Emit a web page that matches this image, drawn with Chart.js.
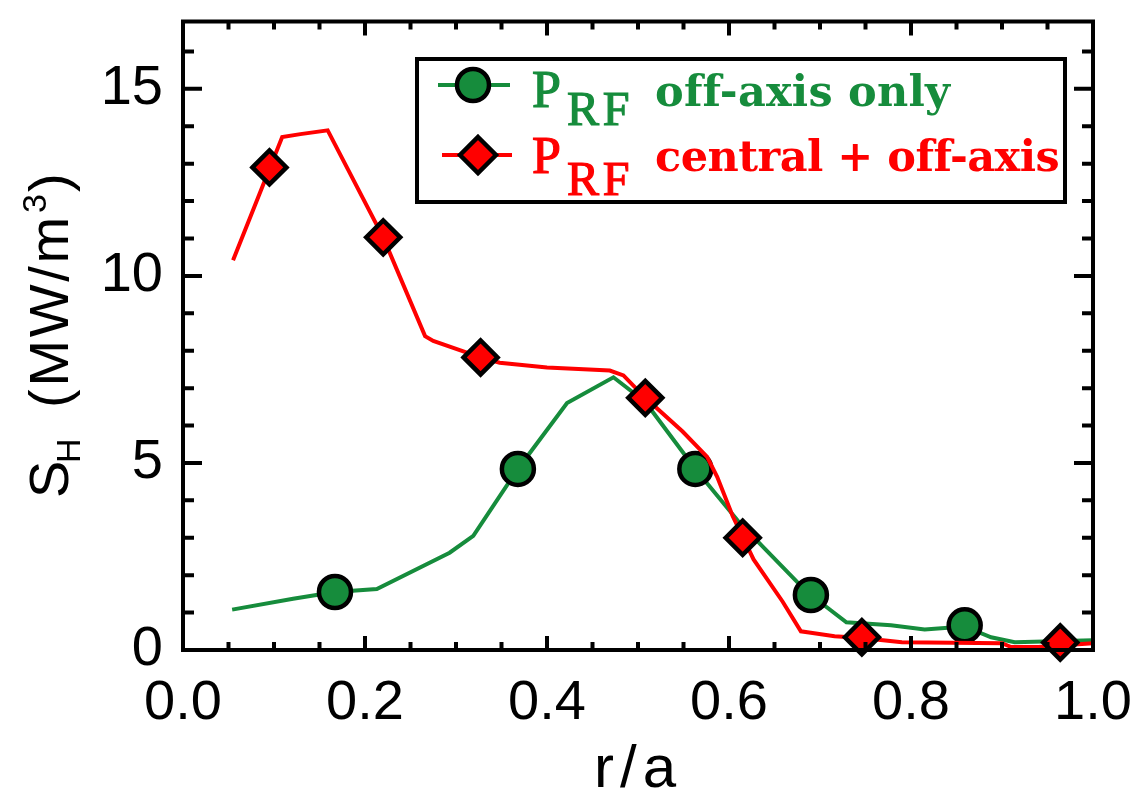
<!DOCTYPE html>
<html>
<head>
<meta charset="utf-8">
<script src="https://cdn.jsdelivr.net/npm/chart.js@4/dist/chart.umd.min.js"></script>
<style>
  body { margin: 0; background: #fff; }
  canvas { display: block; }
</style>
</head>
<body>
<canvas id="myChart" width="1142" height="807"></canvas>
<script>
// profile of heating power density vs normalised radius
const xTickValues = [0.0, 0.2, 0.4, 0.6, 0.8, 1.0];
const yTickValues = [0, 5, 10, 15];

// red curve: central + off-axis
const redLineX = [0.055, 0.109, 0.129, 0.159, 0.220, 0.266, 0.275, 0.327, 0.348, 0.400, 0.469, 0.484, 0.508, 0.549, 0.576, 0.587, 0.604, 0.627, 0.659, 0.679, 0.688, 0.716, 0.746, 0.790, 0.900, 0.910, 0.940, 1.000];
const redLineY = [10.42, 13.71, 13.79, 13.89, 11.03, 8.39, 8.26, 7.82, 7.68, 7.55, 7.47, 7.34, 6.74, 5.84, 5.16, 4.63, 3.58, 2.42, 1.29, 0.50, 0.47, 0.37, 0.32, 0.21, 0.18, 0.08, 0.08, 0.18];
const redMarkX = [0.095, 0.220, 0.327, 0.508, 0.615, 0.746, 0.964];
const redMarkY = [12.9, 11.03, 7.82, 6.74, 3.0, 0.34, 0.2];

// green curve: off-axis only
const greenLineX = [0.054, 0.121, 0.167, 0.213, 0.293, 0.319, 0.368, 0.422, 0.473, 0.508, 0.563, 0.612, 0.678, 0.690, 0.729, 0.778, 0.815, 0.859, 0.888, 0.914, 1.000];
const greenLineY = [1.08, 1.37, 1.55, 1.63, 2.60, 3.05, 4.84, 6.60, 7.29, 6.63, 4.84, 3.39, 1.74, 1.47, 0.74, 0.66, 0.55, 0.63, 0.34, 0.21, 0.26];
const greenMarkX = [0.167, 0.368, 0.563, 0.690, 0.859];
const greenMarkY = [1.55, 4.84, 4.84, 1.47, 0.66];

const RED = '#ff0000';
const GREEN = '#168c3c';

const pts = (xs, ys) => xs.map((x, i) => ({x: x, y: ys[i]}));

// text with letter spacing stretched to a target width
function fitText(ctx, str, x, y, font, color, target, stroke) {
    ctx.font = font;
    ctx.letterSpacing = '0px';
    const w = ctx.measureText(str).width;
    if (target) ctx.letterSpacing = ((target - w) / str.length) + 'px';
    ctx.fillStyle = color;
    ctx.fillText(str, x, y);
    if (stroke) {
        ctx.lineWidth = stroke;
        ctx.strokeStyle = color;
        ctx.strokeText(str, x, y);
    }
    ctx.letterSpacing = '0px';
}

const framePlugin = {
    id: 'frame',
    beforeDraw(chart) {
        const ctx = chart.ctx;
        ctx.save();
        ctx.fillStyle = '#fff';
        ctx.fillRect(0, 0, chart.width, chart.height);
        ctx.restore();
    },
    afterDraw(chart) {
        const ctx = chart.ctx;
        const a = chart.chartArea;
        const xs = chart.scales.x, ys = chart.scales.y;
        ctx.save();
        ctx.strokeStyle = '#000';
        ctx.lineWidth = 4;
        ctx.strokeRect(a.left, a.top, a.right - a.left, a.bottom - a.top);

        // inward ticks on all four sides
        ctx.beginPath();
        for (let i = 0; i <= 20; i++) {
            const px = xs.getPixelForValue(i * 0.05);
            const len = (i % 4 === 0) ? 14 : 8;
            ctx.moveTo(px, a.bottom); ctx.lineTo(px, a.bottom - len);
            ctx.moveTo(px, a.top); ctx.lineTo(px, a.top + len);
        }
        for (let v = 0; v <= 16; v++) {
            const py = ys.getPixelForValue(v);
            const len = (v % 5 === 0) ? 19 : 11;
            ctx.moveTo(a.left, py); ctx.lineTo(a.left + len, py);
            ctx.moveTo(a.right, py); ctx.lineTo(a.right - len, py);
        }
        ctx.stroke();

        // axis titles
        ctx.textBaseline = 'alphabetic';
        ctx.textAlign = 'left';
        fitText(ctx, 'r/a', 594, 787, '60px "Liberation Sans"', '#000', 88);

        ctx.save();
        ctx.translate(68, 498);
        ctx.rotate(-Math.PI / 2);
        fitText(ctx, 'S', 0, 0, '56px "Liberation Sans"', '#000', 31);
        fitText(ctx, 'H', 35, 12, '34px "Liberation Sans"', '#000', 24);
        fitText(ctx, '(MW/m', 90, 0, '56px "Liberation Sans"', '#000', 194);
        fitText(ctx, '3', 285, -22, '34px "Liberation Sans"', '#000', 18);
        fitText(ctx, ')', 306, 0, '56px "Liberation Sans"', '#000', 22);
        ctx.restore();

        // legend box
        ctx.lineWidth = 4;
        ctx.strokeStyle = '#000';
        ctx.strokeRect(417, 59, 1065 - 417, 202 - 59);

        ctx.strokeStyle = GREEN;
        ctx.beginPath(); ctx.moveTo(438, 85); ctx.lineTo(510, 85); ctx.stroke();
        ctx.beginPath(); ctx.arc(473, 85, 16, 0, Math.PI * 2);
        ctx.fillStyle = GREEN; ctx.fill();
        ctx.lineWidth = 4.5;
        ctx.strokeStyle = '#000'; ctx.stroke();

        ctx.lineWidth = 4;
        ctx.strokeStyle = RED;
        ctx.beginPath(); ctx.moveTo(442, 155); ctx.lineTo(512, 155); ctx.stroke();
        ctx.beginPath();
        ctx.moveTo(478, 155 - 18); ctx.lineTo(478 + 18, 155);
        ctx.lineTo(478, 155 + 18); ctx.lineTo(478 - 18, 155); ctx.closePath();
        ctx.fillStyle = RED; ctx.fill();
        ctx.lineWidth = 4.5;
        ctx.strokeStyle = '#000'; ctx.stroke();

        fitText(ctx, 'P', 532, 107, '52px "Liberation Serif"', GREEN, 36, 1.2);
        fitText(ctx, 'RF', 567, 125, '48px "Liberation Serif"', GREEN, 66, 1.2);
        fitText(ctx, 'off-axis only', 655, 106, 'bold 43px "DejaVu Serif"', GREEN, 295);

        fitText(ctx, 'P', 532, 173, '52px "Liberation Serif"', RED, 36, 1.2);
        fitText(ctx, 'RF', 567, 195, '48px "Liberation Serif"', RED, 66, 1.2);
        fitText(ctx, 'central + off-axis', 655, 171, 'bold 43px "DejaVu Serif"', RED, 404);
        ctx.restore();
    }
};

const ctx = document.querySelector('#myChart');
const myChart = new Chart(ctx, {
    type: 'line',
    data: {
        datasets: [{
            label: 'central + off-axis markers',
            data: pts(redMarkX, redMarkY),
            showLine: false,
            pointStyle: 'rectRot',
            pointRadius: 17,
            pointBackgroundColor: RED,
            pointBorderColor: '#000',
            pointBorderWidth: 4.5,
            clip: false,
            order: 0
        }, {
            label: 'central + off-axis',
            data: pts(redLineX, redLineY),
            borderColor: RED,
            borderWidth: 4,
            pointRadius: 0,
            tension: 0,
            order: 1
        }, {
            label: 'off-axis only markers',
            data: pts(greenMarkX, greenMarkY),
            showLine: false,
            pointStyle: 'circle',
            pointRadius: 16,
            pointBackgroundColor: GREEN,
            pointBorderColor: '#000',
            pointBorderWidth: 4.5,
            clip: false,
            order: 2
        }, {
            label: 'off-axis only',
            data: pts(greenLineX, greenLineY),
            borderColor: GREEN,
            borderWidth: 4,
            pointRadius: 0,
            tension: 0,
            order: 3
        }]
    },
    options: {
        responsive: false,
        animation: false,
        layout: { padding: { top: 10, right: 49, left: 0, bottom: 0 } },
        plugins: { legend: { display: false }, tooltip: { enabled: false } },
        scales: {
            x: {
                type: 'linear',
                min: 0, max: 1,
                afterBuildTicks: s => { s.ticks = xTickValues.map(v => ({value: v})); },
                afterFit: s => { s.height = 157; s.paddingLeft = 0; s.paddingRight = 0; },
                ticks: {
                    callback: v => v.toFixed(1),
                    font: { family: 'Liberation Sans', size: 56 },
                    color: '#000',
                    padding: 20,
                    maxRotation: 0,
                    autoSkip: false
                },
                grid: { display: false, drawTicks: false },
                border: { display: false }
            },
            y: {
                type: 'linear',
                min: 0, max: 16.8,
                afterBuildTicks: s => { s.ticks = yTickValues.map(v => ({value: v})); },
                afterFit: s => { s.width = 183; s.paddingTop = 0; s.paddingBottom = 0; },
                ticks: {
                    callback: v => String(v),
                    font: { family: 'Liberation Sans', size: 56 },
                    color: '#000',
                    padding: 20,
                    autoSkip: false
                },
                grid: { display: false, drawTicks: false },
                border: { display: false }
            }
        }
    },
    plugins: [framePlugin]
});
</script>
</body>
</html>
